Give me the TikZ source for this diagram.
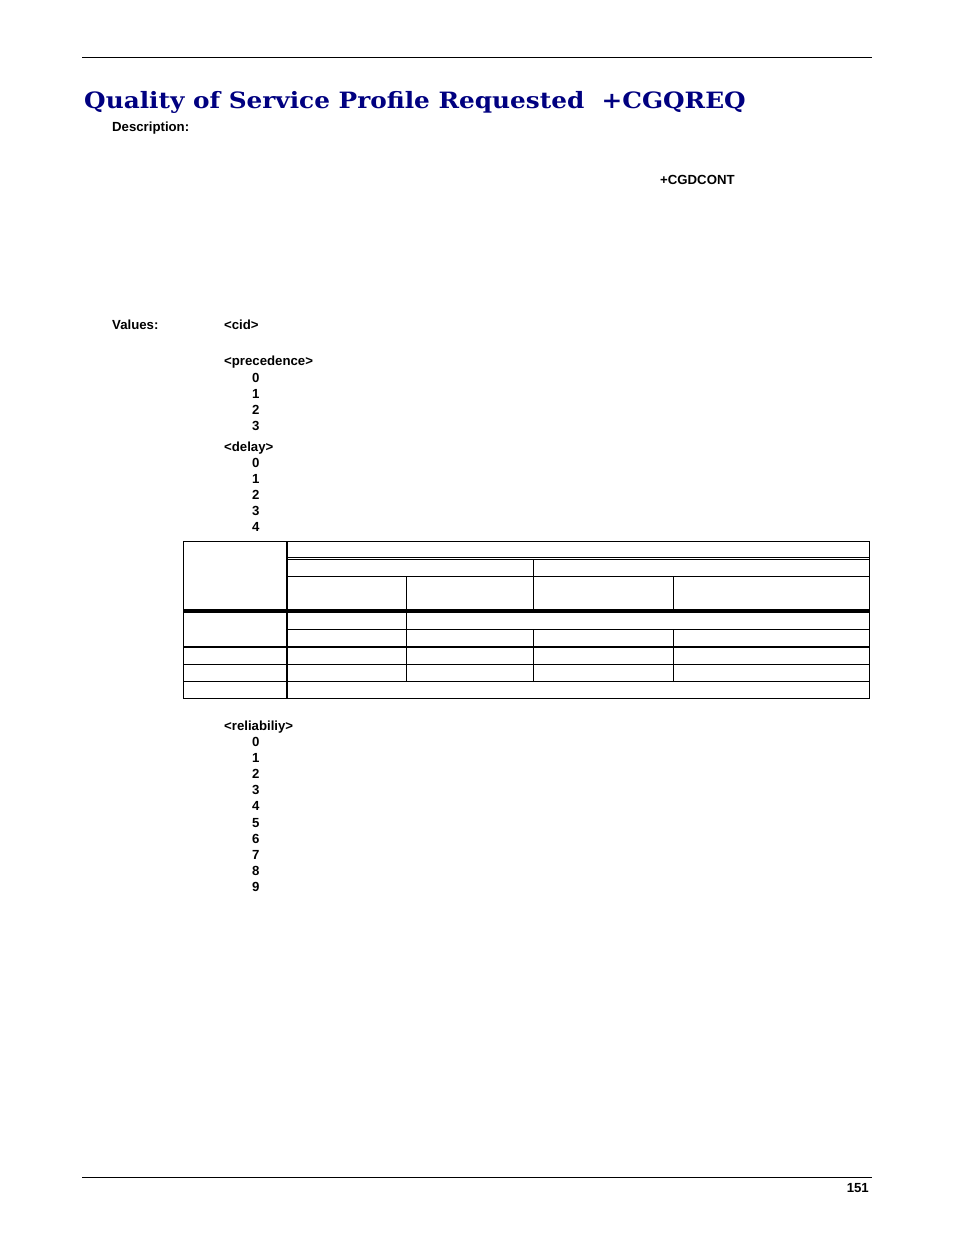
\documentclass[tikz,border=0pt]{standalone}
\usepackage{fontspec}
\setmainfont{Liberation Sans}
\newfontfamily\titlefont{DejaVu Serif}
\definecolor{navy}{RGB}{0,0,128}
\begin{document}
\begin{tikzpicture}[x=1pt,y=-1pt,
  lbl/.style={anchor=base west,inner sep=0pt,font=\fontsize{13.2}{15}\selectfont\bfseries},
  thin/.style={line width=1pt},
  thick2/.style={line width=2.2pt}]
\useasboundingbox (0,0) rectangle (954,1235);
\fill[white] (0,0) rectangle (954,1235);
\draw[thin] (82,57) -- (872,57);
\draw[thin] (82,1177) -- (872,1177);
\node[anchor=base west,inner sep=0pt,text=navy,xscale=1.1,font=\titlefont\fontsize{22.5}{24}\selectfont\bfseries] (title) at (84,108) {Quality of Service Profile Requested\ \ +CGQREQ};
\node[lbl] (desc) at (112,131) {Description:};
\node[lbl] (cgd) at (660,184) {+CGDCONT};
\node[lbl] (val) at (112,329) {Values:};
\node[lbl] (cid) at (224,329) {<cid>};
\node[lbl] (prec) at (224,365) {<precedence>};
\foreach \t/\y in {0/382,1/398,2/414,3/430} \node[lbl] (p\t) at (252,\y) {\t};
\node[lbl] (del) at (224,451) {<delay>};
\foreach \t/\y in {0/467,1/483,2/499,3/515,4/531} \node[lbl] (d\t) at (252,\y) {\t};
\node[lbl] (rel) at (224,730) {<reliabiliy>};
\foreach \t/\y in {0/746,1/762,2/778,3/794,4/810,5/827,6/843,7/859,8/875,9/891} \node[lbl] (r\t) at (252,\y) {\t};
\node[lbl,anchor=base east] (pg) at (869,1192) {151};
% table
\draw[thin] (183,541) rectangle (869,698);
\draw[thick2] (287,541) -- (287,698);
\draw[thin] (287,557) -- (869,557);
\draw[thin] (287,559.5) -- (869,559.5);
\draw[thin] (287,576) -- (869,576);
\draw[thin] (183,609) -- (869,609);
\draw[thick2] (183,611.5) -- (869,611.5);
\draw[thin] (287,629) -- (869,629);
\draw[thick2] (183,647) -- (869,647);
\draw[thin] (183,664) -- (869,664);
\draw[thin] (183,681) -- (869,681);
\draw[thin] (406,576) -- (406,609);
\draw[thin] (406,611) -- (406,681);
\draw[thin] (533,559) -- (533,609);
\draw[thin] (533,629) -- (533,681);
\draw[thin] (673,576) -- (673,609);
\draw[thin] (673,629) -- (673,681);
\end{tikzpicture}
\end{document}
